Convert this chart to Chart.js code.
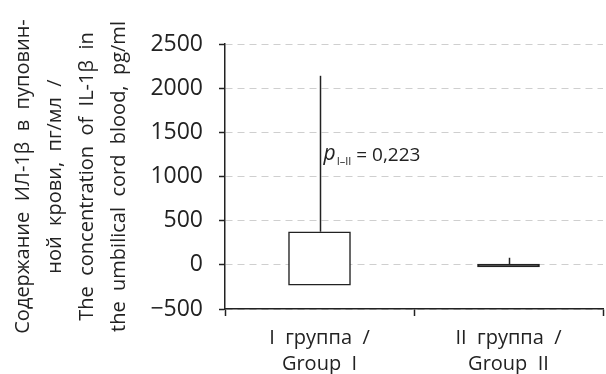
<!DOCTYPE html>
<html>
<head>
<meta charset="utf-8">
<script src="https://cdn.jsdelivr.net/npm/chart.js@4.4.1/dist/chart.umd.min.js"></script>
<style>
  html, body { margin: 0; padding: 0; background: #fff; }
  #wrap { width: 606px; height: 374px; }
</style>
</head>
<body>
<div id="wrap"><canvas id="il-chart" width="606" height="374"></canvas></div>
<script>
// groups on the x axis
const groups = [['I  группа  /', 'Group  I'], ['II  группа  /', 'Group  II']];
// box bottom / top and upper whisker, pg/ml
const boxLow = [-230, -25];
const boxHigh = [375, 8];
const whiskerHigh = [2140, 80];
// y axis
const yMin = -500;
const yMax = 2500;
const yStep = 500;
const yTitle = [
    'Содержание  ИЛ-1β  в  пуповин-',
    'ной  крови,  пг/мл  /',
    'The  concentration  of  IL-1β  in',
    'the  umbilical  cord  blood,  pg/ml'
];
const pLabel = { sub: 'I–II', text: ' = 0,223', at: 1250 };

const ink = '#222222';
const fontFamily = '"Open Sans", "Noto Sans", sans-serif';

// whiskers + p value, drawn with the chart's own scales
const whiskerPlugin = {
    id: 'whiskers',
    afterDatasetsDraw(chart) {
        const ctx = chart.ctx;
        const xs = chart.scales.x;
        const ys = chart.scales.y;
        ctx.save();
        ctx.strokeStyle = ink;
        ctx.lineWidth = 1.5;
        whiskerHigh.forEach((w, i) => {
            const x = Math.round(xs.getPixelForValue(i)) + 0.5;
            ctx.beginPath();
            ctx.moveTo(x, ys.getPixelForValue(boxHigh[i]));
            ctx.lineTo(x, ys.getPixelForValue(w));
            ctx.stroke();
        });

        // p label next to the first whisker
        const px = xs.getPixelForValue(0) + 4;
        const py = ys.getPixelForValue(pLabel.at);
        ctx.fillStyle = ink;
        ctx.textBaseline = 'alphabetic';
        ctx.textAlign = 'left';
        ctx.font = 'italic 21px ' + fontFamily;
        ctx.fillText('p', px, py + 6);
        let cx = px + ctx.measureText('p').width + 1;
        ctx.font = '11px ' + fontFamily;
        ctx.fillText(pLabel.sub, cx, py + 11);
        cx += ctx.measureText(pLabel.sub).width;
        ctx.font = '19px ' + fontFamily;
        ctx.fillText(pLabel.text, cx, py + 7);
        ctx.restore();
    }
};

new Chart(document.getElementById('il-chart'), {
    type: 'bar',
    data: {
        labels: groups,
        datasets: [{
            data: boxLow.map((v, i) => [v, boxHigh[i]]),
            // the second box is so flat that it reads as a solid bar
            backgroundColor: ['#ffffff', ink],
            borderColor: ink,
            borderWidth: 1.5,
            borderSkipped: false,
            barThickness: 62
        }]
    },
    options: {
        responsive: false,
        animation: false,
        layout: { padding: { top: 44, right: 3, left: 0, bottom: 0 } },
        plugins: {
            legend: { display: false },
            tooltip: { enabled: false }
        },
        scales: {
            x: {
                offset: true,
                afterFit: s => { s.height = 65; },
                grid: {
                    offset: true,
                    drawOnChartArea: false,
                    tickLength: 7,
                    tickColor: ink,
                    tickWidth: 1.5
                },
                border: { color: ink, width: 1.5 },
                ticks: {
                    color: ink,
                    padding: 9,
                    font: { family: fontFamily, size: 20, lineHeight: 1.3 }
                }
            },
            y: {
                min: yMin,
                max: yMax,
                afterFit: s => { s.width = 225; },
                grid: {
                    color: '#cfcfcf',
                    lineWidth: 1,
                    tickLength: 6,
                    tickColor: ink,
                    tickWidth: 1.5
                },
                border: { color: ink, width: 1.5, dash: [7, 5] },
                ticks: {
                    stepSize: yStep,
                    color: ink,
                    padding: 16,
                    font: { family: fontFamily, size: 23 },
                    callback: v => (v < 0 ? '\u2212' + Math.abs(v) : String(v))
                },
                title: {
                    display: true,
                    text: yTitle,
                    color: ink,
                    padding: { top: 7, bottom: 0 },
                    font: { family: fontFamily, size: 20, lineHeight: 1.6 }
                }
            }
        }
    },
    plugins: [whiskerPlugin]
});
</script>
</body>
</html>
